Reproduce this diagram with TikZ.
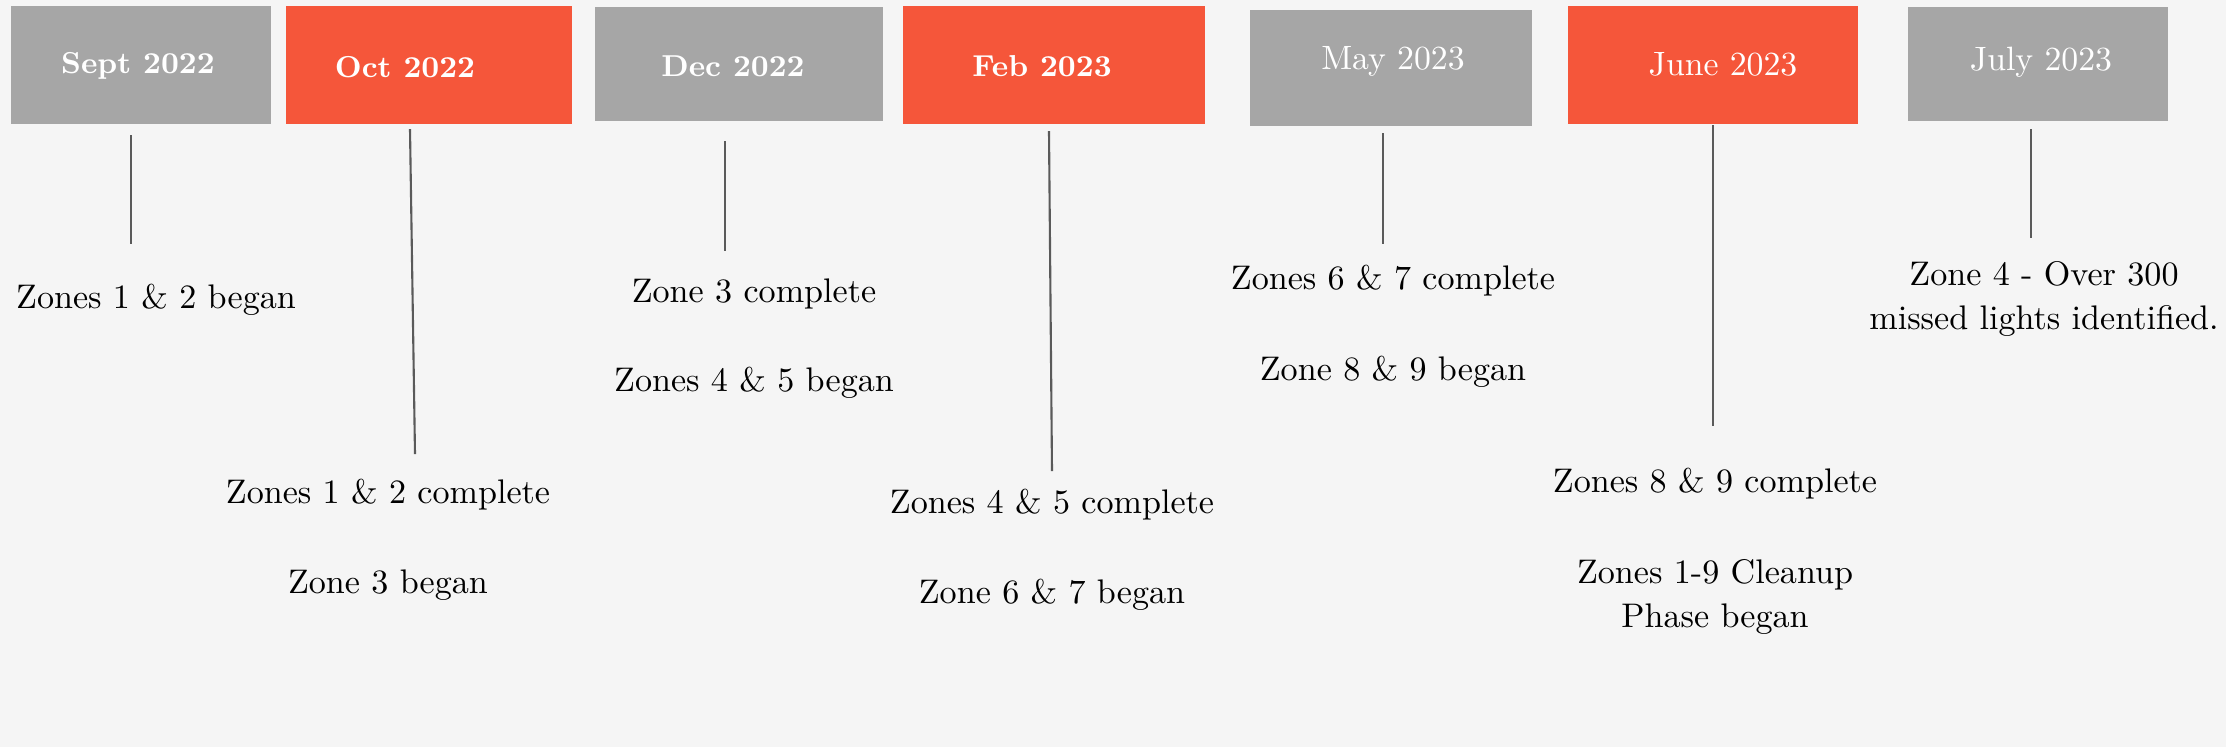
\documentclass[tikz,border=0pt]{standalone}
\usepackage{tikz}
\usetikzlibrary{calc}
\definecolor{boxgray}{HTML}{A6A6A6}
\definecolor{boxred}{HTML}{F5563A}
\definecolor{paper}{HTML}{F5F5F5}
\definecolor{stemgray}{HTML}{5A5A5A}
\tikzstyle{g} = [fill=boxgray,inner sep=0pt,minimum height=1.17cm]
\tikzstyle{r} = [fill=boxred,inner sep=0pt,minimum height=1.17cm]
\tikzstyle{bold} = [text=white,font=\fontsize{8.6}{10}\selectfont\bfseries]
\tikzstyle{thin} = [text=white,font=\fontsize{9.6}{11}\selectfont]
\tikzstyle{note} = [align=center,inner sep=0pt,font=\fontsize{9.7}{12.5}\selectfont]
\tikzstyle{stem} = [draw=stemgray,line width=0.6pt]

\begin{document}
\begin{tikzpicture}[x=0.01cm,y=-0.01cm]

% Background
    \fill[paper] (0,0) rectangle (2226,747);

% Month boxes
    \node[g,minimum width=2.60cm] at (141,65) (sept) {};
    \node[r,minimum width=2.85cm] at (429,65) (oct) {};
    \node[g,minimum width=2.88cm,minimum height=1.14cm] at (739,64) (dec) {};
    \node[r,minimum width=3.02cm] at (1054,65) (feb) {};
    \node[g,minimum width=2.81cm,minimum height=1.15cm] at (1391,68) (may) {};
    \node[r,minimum width=2.89cm] at (1713,65) (june) {};
    \node[g,minimum width=2.60cm,minimum height=1.14cm] at (2038,64) (july) {};

% Month labels
    \node[bold] at (138,66) (septlbl) {Sept 2022};
    \node[bold] at (405,67) (octlbl) {Oct 2022};
    \node[bold] at (733,66) (declbl) {Dec 2022};
    \node[bold] at (1042,66) (feblbl) {Feb 2023};
    \node[thin] at (1393,61) (maylbl) {May 2023};
    \node[thin] at (1723,64) (junelbl) {June 2023};
    \node[thin] at (2041,62) (julylbl) {July 2023};

% Notes
    \node[note] at (156,300) (sept1) {Zones 1 \& 2 began};
    \node[note] at (388,495) (oct1) {Zones 1 \& 2 complete};
    \node[note] at (388,585) (oct2) {Zone 3 began};
    \node[note] at (754,294) (dec1) {Zone 3 complete};
    \node[note] at (754,383) (dec2) {Zones 4 \& 5 began};
    \node[note] at (1052,505) (feb1) {Zones 4 \& 5 complete};
    \node[note] at (1052,595) (feb2) {Zone 6 \& 7 began};
    \node[note] at (1393,281) (may1) {Zones 6 \& 7 complete};
    \node[note] at (1393,372) (may2) {Zone 8 \& 9 began};
    \node[note] at (1715,484) (june1) {Zones 8 \& 9 complete};
    \node[note] at (1715,597) (june2) {Zones 1-9 Cleanup\\Phase began};
    \node[note] at (2044,299) (july1) {Zone 4 - Over 300\\missed lights identified.};

% Stems
    \coordinate (s1a) at (131,135);  \coordinate (s1b) at (131,244);
    \coordinate (s2a) at (410,129);  \coordinate (s2b) at (415,454);
    \coordinate (s3a) at (725,141);  \coordinate (s3b) at (725,251);
    \coordinate (s4a) at (1049,131); \coordinate (s4b) at (1052,471);
    \coordinate (s5a) at (1383,133); \coordinate (s5b) at (1383,244);
    \coordinate (s6a) at (1713,125); \coordinate (s6b) at (1713,426);
    \coordinate (s7a) at (2031,129); \coordinate (s7b) at (2031,238);
    \draw[stem] (s1a) -- (s1b);
    \draw[stem] (s2a) -- (s2b);
    \draw[stem] (s3a) -- (s3b);
    \draw[stem] (s4a) -- (s4b);
    \draw[stem] (s5a) -- (s5b);
    \draw[stem] (s6a) -- (s6b);
    \draw[stem] (s7a) -- (s7b);

\end{tikzpicture}
\end{document}
